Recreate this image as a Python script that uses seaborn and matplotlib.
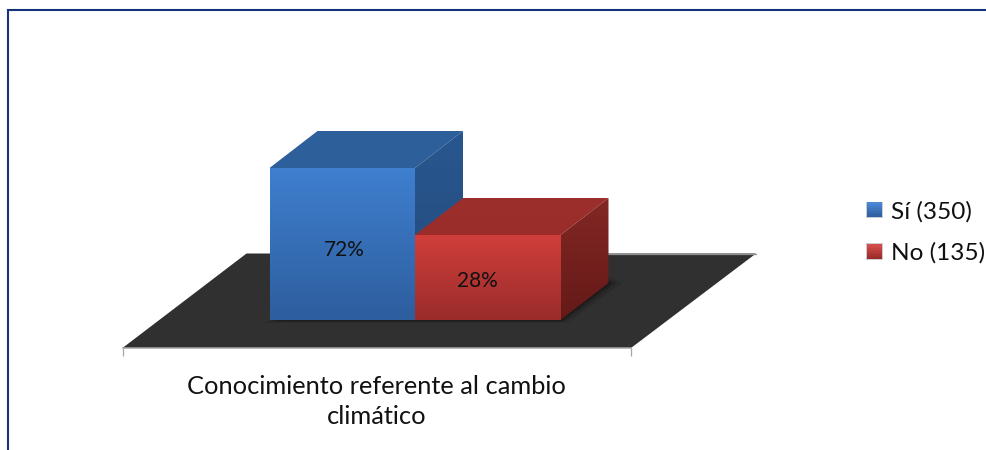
import numpy as np
import pandas as pd
import matplotlib
matplotlib.use("Agg")
import matplotlib.pyplot as plt
import seaborn as sns
from matplotlib.colors import LinearSegmentedColormap
from matplotlib.legend_handler import HandlerBase
from matplotlib.lines import Line2D
from matplotlib.patches import Patch, Polygon, Rectangle
from matplotlib.transforms import Affine2D

categories = ["Conocimiento referente al cambio\nclimático"]
answers = ["Sí (350)", "No (135)"]
percent = [72, 28]

W, H = 987, 450
sns.set_theme(style="white")
plt.rcParams["font.family"] = ["Lato", "DejaVu Sans"]
TXT = "#111111"
FS = 18.3
FS_LEG = 17.6

fig = plt.figure(figsize=(W / 100, H / 100), dpi=100, facecolor="white")
px = Affine2D().scale(1 / W, -1 / H).translate(0, 1) + fig.transFigure

# axes run along the front edge of the floor
L, R, B = 122.5, 631, 348
ax = fig.add_axes([L / W, (H - B) / H, (R - L) / W, B / H])
ax.set_facecolor("none")

# scale: bars share their edge at x=0, half-width 0.4 (145.5 px)
sx = 145.5 / 0.4
X0 = 415
sy = 67 / 44          # px per percent
base_px = 320
top28_px = 235
BASE = 28 - (base_px - top28_px) / sy
v_at = lambda p: 28 - (p - top28_px) / sy
DX, DY = 48 / sx, 37 / sy

df = pd.DataFrame({"tema": categories * 2, "respuesta": answers, "pct": percent})
sns.barplot(data=df, x="tema", y="pct", hue="respuesta", hue_order=answers,
            palette=["#3569AE", "#B83532"], width=0.8, gap=0, saturation=1,
            legend=False, ax=ax, errorbar=None)
xlim = ((L - X0) / sx, (R - X0) / sx)
ylim = (v_at(B), v_at(0))

bars = list(ax.patches)
for b in bars:
    top = b.get_height()
    b.set_y(BASE)
    b.set_height(top - BASE)
    b.set_linewidth(0)


def gradient(poly, top, bottom, z):
    xs, ys = zip(*poly)
    cmap = LinearSegmentedColormap.from_list("g", [top, bottom])
    im = ax.imshow(np.linspace(0, 1, 128).reshape(-1, 1), cmap=cmap, aspect="auto",
                   extent=(min(xs), max(xs), min(ys), max(ys)), origin="upper",
                   zorder=z, interpolation="bilinear")
    im.set_clip_path(Polygon(poly, closed=True, transform=ax.transData))


faces = [
    dict(front=("#3F7FCF", "#2D5E9E"), top=("#2D5F9B", "#2D609C"), side=("#28578F", "#234A7B")),
    dict(front=("#D03E3B", "#9A2C2A"), top=("#9C2E2B", "#9A2D2A"), side=("#832724", "#641A18")),
]
for i, (b, f) in enumerate(zip(bars, faces)):
    x0, x1 = b.get_x(), b.get_x() + b.get_width()
    y0, y1 = b.get_y(), b.get_y() + b.get_height()
    z = 3 + i * 2
    b.set_zorder(z)
    gradient([(x0, y1), (x1, y1), (x1 + DX, y1 + DY), (x0 + DX, y1 + DY)], *f["top"], z)
    gradient([(x1, y0), (x1 + DX, y0 + DY), (x1 + DX, y1 + DY), (x1, y1)], *f["side"], z)
    gradient([(x0, y0), (x1, y0), (x1, y1), (x0, y1)], *f["front"], z + 0.5)

# floor and soft shadow
ax.add_patch(Polygon([(122.5, 348), (631, 348), (756, 253.5), (246.5, 253.5)], closed=True,
                     transform=px, facecolor="#303030", edgecolor="none", clip_on=False, zorder=1))
for grow, a in zip((7, 4, 2), (0.12, 0.16, 0.22)):
    ax.add_patch(Polygon([(269 - grow, 320 + grow * 0.4), (560 + grow, 320 + grow * 0.4),
                          (608 + grow * 2, 283), (608, 283 - grow)], closed=True,
                         transform=px, facecolor="black", alpha=a, edgecolor="none",
                         clip_on=False, zorder=1.5))
ax.add_line(Line2D([608, 756], [253.5, 253.5], transform=px, color="#8E8E8E", lw=0.9,
                   clip_on=False, zorder=1.2))

# data labels
for b, v, (ox, oy) in zip(bars, percent, [(2, -5.5), (-10.5, -3.5)]):
    ax.annotate(f"{v}%", (b.get_x() + b.get_width() / 2, b.get_y() + b.get_height() / 2),
                xytext=(ox * 0.72, oy * 0.72), textcoords="offset points",
                ha="center", va="center", fontsize=15, color=TXT, zorder=10)

ax.set_xlim(xlim)
ax.set_ylim(ylim)
for s in ("top", "left", "right"):
    ax.spines[s].set_visible(False)
ax.spines["bottom"].set_color("#A6A6A6")
ax.spines["bottom"].set_linewidth(1.1)
ax.spines["bottom"].set_zorder(2)
ax.set_yticks([])
ax.set_xticks(xlim, ["", ""])
ax.tick_params(axis="x", bottom=True, length=5.8, width=0.9, color="#A6A6A6", pad=0)
ax.set_xlabel(categories[0], fontsize=FS, color=TXT, labelpad=13.5, linespacing=1.36)
ax.set_ylabel("")


class GradSquare(HandlerBase):
    def __init__(self, top, bottom):
        super().__init__()
        self.c = LinearSegmentedColormap.from_list("g", [top, bottom])

    def create_artists(self, legend, orig, xd, yd, w, h, fs, trans):
        n = 10
        side = 15 * 0.72        # legend artists are laid out in points
        art = [Rectangle((-xd - 0.5, -yd - 0.5 + (h - side) / 2), side + 1, side + 1,
                         facecolor="#C9CDD3", edgecolor="none", transform=trans)]
        for k in range(n):
            art.append(Rectangle((-xd, -yd + (h - side) / 2 + side * (n - 1 - k) / n), side, side / n + 0.2,
                                 facecolor=self.c(k / (n - 1)), edgecolor="none", transform=trans))
        return art


handles = [Patch(color="#3569AE"), Patch(color="#B83532")]
leg = ax.legend(handles, answers, loc="center left", bbox_to_anchor=(867, 232.5),
                bbox_transform=px, frameon=False, fontsize=FS_LEG, borderpad=0, borderaxespad=0,
                handlelength=0.61, handleheight=0.61, handletextpad=0.36, labelspacing=0.82,
                labelcolor=TXT,
                handler_map={handles[0]: GradSquare("#4A88D6", "#2D5E9E"),
                             handles[1]: GradSquare("#D8504C", "#9A2C2A")})

# outer frame of the slide
fig.add_artist(Line2D([7.5, 7.5, W], [H, 10, 10], transform=px, color="#16327A", lw=1.5,
                      solid_joinstyle="miter"))
fig.savefig("out.png", dpi=100)
